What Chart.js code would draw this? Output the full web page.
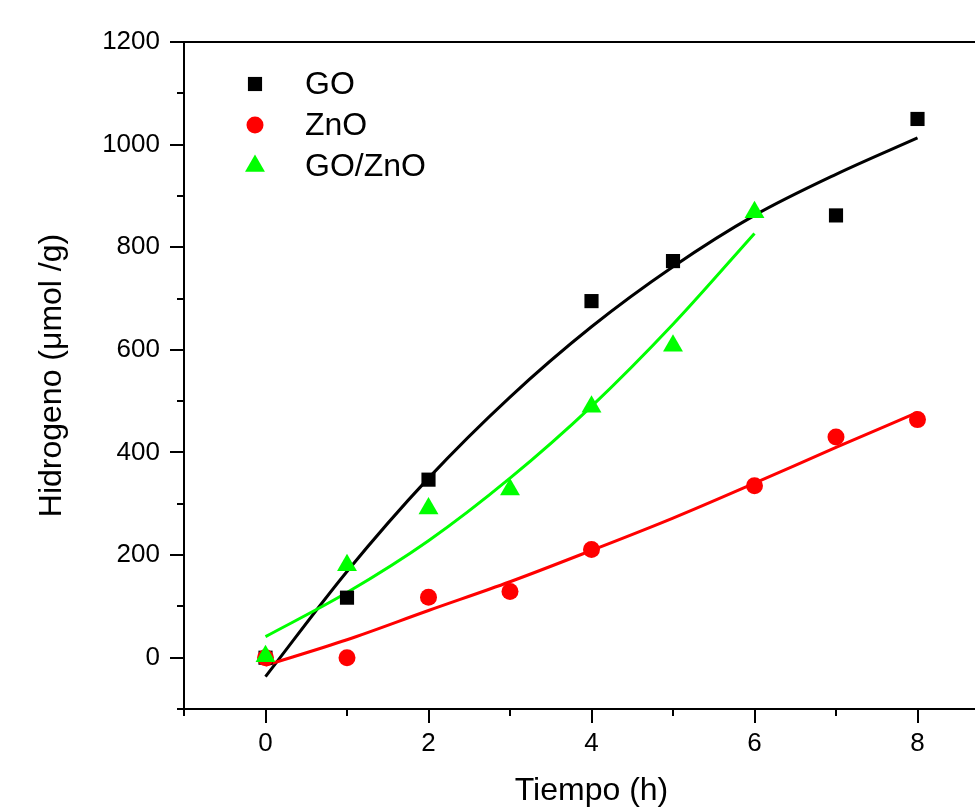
<!DOCTYPE html>
<html>
<head>
<meta charset="utf-8">
<script src="https://cdn.jsdelivr.net/npm/chart.js@4"></script>
<style>
  html, body { margin: 0; padding: 0; background: #fff; overflow: hidden; }
  #wrap { width: 1018px; height: 810px; }
</style>
</head>
<body>
<div id="wrap"><canvas id="chart"></canvas></div>
<script>
// datos medidos
const timeGO = [0, 1, 2, 4, 5, 7, 8];
const hydGO = [0, 117, 347, 695, 773, 862, 1050];
const timeZnO = [0, 1, 2, 3, 4, 6, 7, 8];
const hydZnO = [0, 0, 118, 129, 211, 335, 430, 464];
const timeMix = [0, 1, 2, 3, 4, 5, 6];
const hydMix = [3, 180, 291, 328, 489, 608, 868];

// curvas de ajuste
const fitTime = [0, 1, 2, 3, 4, 5, 6, 7, 8];
const fitGO = [-37, 168, 350, 508, 645, 762, 862, 942, 1013];
const fitZnO = [-15, 35, 92, 148, 209, 272, 340, 410, 478];
const fitMixTime = [0, 1, 2, 3, 4, 5, 6];
const fitMix = [41, 127, 228, 350, 490, 650, 827];

const seriesNames = ["GO", "ZnO", "GO/ZnO"];
const xTickLabels = [0, 2, 4, 6, 8];
const yTickLabels = [0, 200, 400, 600, 800, 1000, 1200];

const toPoints = (xs, ys) => xs.map((x, i) => ({ x, y: ys[i] }));

const fontFamily = "'Liberation Sans', Arial, sans-serif";

// marcas de eje hacia afuera (largas en valores con etiqueta) + borde superior
const frameTicks = {
    id: "frameTicks",
    afterDraw(chart) {
        const ctx = chart.ctx;
        const xs = chart.scales.x;
        const ys = chart.scales.y;
        const area = chart.chartArea;
        ctx.save();
        ctx.strokeStyle = "#000";
        ctx.lineWidth = 2;
        ctx.beginPath();
        xs.ticks.forEach(t => {
            const px = Math.round(xs.getPixelForValue(t.value));
            const len = xTickLabels.includes(t.value) ? 14 : 7;
            ctx.moveTo(px, area.bottom);
            ctx.lineTo(px, area.bottom + len);
        });
        ys.ticks.forEach(t => {
            const py = Math.round(ys.getPixelForValue(t.value));
            const len = yTickLabels.includes(t.value) ? 14 : 7;
            ctx.moveTo(area.left, py);
            ctx.lineTo(area.left - len, py);
        });
        ctx.moveTo(area.left - 1, area.top);
        ctx.lineTo(area.right, area.top);
        ctx.stroke();
        ctx.restore();
    }
};

// leyenda dentro del area del grafico
const insideLegend = {
    id: "insideLegend",
    afterDraw(chart) {
        const ctx = chart.ctx;
        const area = chart.chartArea;
        const sets = chart.data.datasets.filter(d => d.type === "scatter");
        ctx.save();
        ctx.font = "32px " + fontFamily;
        ctx.textBaseline = "middle";
        seriesNames.forEach((name, i) => {
            const ds = sets.find(d => d.label === name);
            const y = area.top + 42 + i * 41;
            const x = area.left + 71;
            ctx.fillStyle = ds.backgroundColor;
            ctx.strokeStyle = ds.backgroundColor;
            Chart.helpers.drawPoint(ctx, {
                pointStyle: ds.pointStyle,
                radius: ds.pointRadius,
                rotation: 0,
                borderWidth: 0
            }, x, y);
            ctx.fillStyle = "#000";
            ctx.fillText(name, area.left + 121, y + 1);
        });
        ctx.restore();
    }
};

new Chart(document.getElementById("chart"), {
    type: "scatter",
    data: {
        datasets: [
            {
                type: "scatter",
                label: "GO",
                data: toPoints(timeGO, hydGO),
                pointStyle: "rect",
                pointRadius: 10,
                pointHoverRadius: 10,
                pointBorderWidth: 0,
                backgroundColor: "#000000",
                borderColor: "#000000",
                order: 3
            },
            {
                type: "scatter",
                label: "ZnO",
                data: toPoints(timeZnO, hydZnO),
                pointStyle: "circle",
                pointRadius: 8.5,
                pointHoverRadius: 8.5,
                pointBorderWidth: 0,
                backgroundColor: "#ff0000",
                borderColor: "#ff0000",
                order: 2
            },
            {
                type: "scatter",
                label: "GO/ZnO",
                data: toPoints(timeMix, hydMix),
                pointStyle: "triangle",
                pointRadius: 11.5,
                pointHoverRadius: 11.5,
                pointBorderWidth: 0,
                backgroundColor: "#00ff00",
                borderColor: "#00ff00",
                order: 1
            },
            {
                type: "line",
                label: "ajuste GO",
                data: toPoints(fitTime, fitGO),
                borderColor: "#000000",
                borderWidth: 3,
                pointRadius: 0,
                cubicInterpolationMode: "monotone",
                fill: false,
                order: 6
            },
            {
                type: "line",
                label: "ajuste ZnO",
                data: toPoints(fitTime, fitZnO),
                borderColor: "#ff0000",
                borderWidth: 3,
                pointRadius: 0,
                cubicInterpolationMode: "monotone",
                fill: false,
                order: 5
            },
            {
                type: "line",
                label: "ajuste GO/ZnO",
                data: toPoints(fitMixTime, fitMix),
                borderColor: "#00ff00",
                borderWidth: 3,
                pointRadius: 0,
                cubicInterpolationMode: "monotone",
                fill: false,
                order: 4
            }
        ]
    },
    options: {
        responsive: true,
        maintainAspectRatio: false,
        animation: false,
        layout: { padding: { top: 42, left: 0, right: 0, bottom: 0 } },
        plugins: {
            legend: { display: false },
            tooltip: { enabled: false }
        },
        scales: {
            x: {
                type: "linear",
                min: -1,
                max: 9,
                afterFit(scale) { scale.height = 101; },
                grid: { display: false, drawTicks: false },
                border: { display: true, color: "#000", width: 2 },
                ticks: {
                    stepSize: 1,
                    padding: 19,
                    color: "#000",
                    font: { size: 26, family: fontFamily },
                    callback: v => (xTickLabels.includes(v) ? String(v) : "")
                },
                title: {
                    display: true,
                    text: "Tiempo (h)",
                    color: "#000",
                    font: { size: 32, family: fontFamily },
                    padding: { top: 4, bottom: 0 }
                }
            },
            y: {
                type: "linear",
                min: -100,
                max: 1200,
                afterFit(scale) { scale.width = 184; },
                grid: { display: false, drawTicks: false },
                border: { display: true, color: "#000", width: 2 },
                ticks: {
                    stepSize: 100,
                    padding: 24,
                    color: "#000",
                    font: { size: 26, family: fontFamily },
                    callback: v => (yTickLabels.includes(v) ? String(v) : "")
                },
                title: {
                    display: true,
                    text: "Hidrogeno (\u03bcmol /g)",
                    color: "#000",
                    font: { size: 32, family: fontFamily },
                    padding: { top: 33, bottom: 0 }
                }
            }
        }
    },
    plugins: [frameTicks, insideLegend]
});
</script>
</body>
</html>
